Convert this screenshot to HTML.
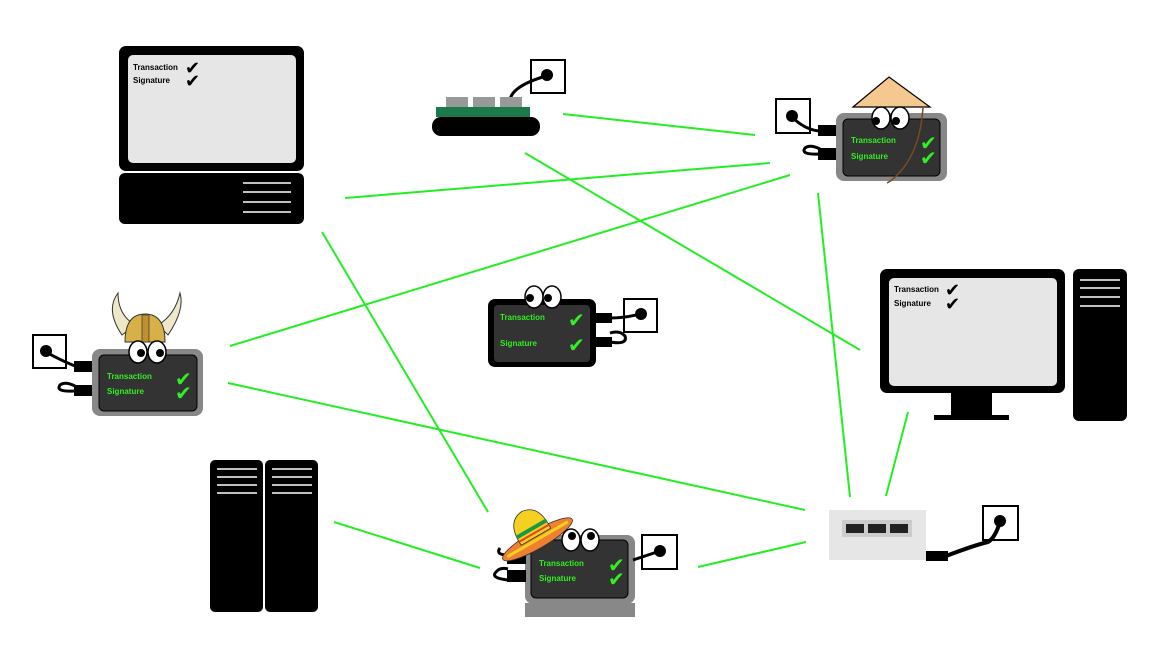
<!DOCTYPE html>
<html><head><meta charset="utf-8"><style>
html,body{margin:0;padding:0;background:#fff;width:1150px;height:647px;overflow:hidden}
svg{display:block}
.t{font-family:"Comic Sans MS","Liberation Sans",sans-serif;font-size:8px;font-weight:bold}
.g{fill:#33ee22}
.k{fill:#000}
.ck{font-family:"DejaVu Sans",sans-serif;font-size:20px;font-weight:bold}
.ck2{font-family:"DejaVu Sans",sans-serif;font-size:18px;font-weight:bold}
</style></head><body>
<svg width="1150" height="647" viewBox="0 0 1150 647" xmlns="http://www.w3.org/2000/svg">
<g stroke="#22ee22" stroke-width="2">
<line x1="563" y1="114" x2="755" y2="135"/>
<line x1="345" y1="198" x2="770" y2="163"/>
<line x1="230" y1="346" x2="790" y2="175"/>
<line x1="525" y1="153" x2="860" y2="350"/>
<line x1="322" y1="232" x2="488" y2="512"/>
<line x1="228" y1="383" x2="805" y2="510"/>
<line x1="818" y1="193" x2="850" y2="497"/>
<line x1="908" y1="412" x2="886" y2="496"/>
<line x1="334" y1="522" x2="480" y2="568"/>
<line x1="698" y1="567" x2="806" y2="542"/>
</g>

<!-- top-left computer -->
<rect x="119" y="46" width="185" height="125" rx="7" fill="#000"/>
<rect x="128" y="55" width="168" height="108" rx="5" fill="#e6e6e6"/>
<text x="133" y="70" class="t k">Transaction</text>
<text x="133" y="83" class="t k">Signature</text>
<text x="185" y="74" class="ck2 k">✔</text>
<text x="185" y="87" class="ck2 k">✔</text>
<rect x="119" y="173" width="185" height="51" rx="6" fill="#000"/>
<g stroke="#fff" stroke-width="1.5"><line x1="243" y1="183" x2="291" y2="183"/><line x1="243" y1="192" x2="291" y2="192"/><line x1="243" y1="202" x2="291" y2="202"/><line x1="243" y1="212" x2="291" y2="212"/></g>

<!-- right computer -->
<rect x="880" y="269" width="185" height="124" rx="7" fill="#000"/>
<rect x="889" y="278" width="168" height="108" rx="5" fill="#e6e6e6"/>
<text x="894" y="292" class="t k">Transaction</text>
<text x="894" y="306" class="t k">Signature</text>
<text x="945" y="296" class="ck2 k">✔</text>
<text x="945" y="310" class="ck2 k">✔</text>
<rect x="951" y="392" width="41" height="24" fill="#000"/>
<rect x="934" y="415" width="75" height="5" fill="#000"/>
<rect x="1073" y="269" width="54" height="152" rx="6" fill="#000"/>
<g stroke="#fff" stroke-width="1.5"><line x1="1080" y1="280" x2="1120" y2="280"/><line x1="1080" y1="288" x2="1120" y2="288"/><line x1="1080" y1="297" x2="1120" y2="297"/><line x1="1080" y1="306" x2="1120" y2="306"/></g>

<!-- servers -->
<rect x="210" y="460" width="53" height="152" rx="5" fill="#000"/>
<rect x="265" y="460" width="53" height="152" rx="5" fill="#000"/>
<g stroke="#fff" stroke-width="1.5"><line x1="217" y1="469" x2="257" y2="469"/><line x1="217" y1="477" x2="257" y2="477"/><line x1="217" y1="485" x2="257" y2="485"/><line x1="217" y1="493" x2="257" y2="493"/>
<line x1="272" y1="469" x2="312" y2="469"/><line x1="272" y1="477" x2="312" y2="477"/><line x1="272" y1="485" x2="312" y2="485"/><line x1="272" y1="493" x2="312" y2="493"/></g>

<!-- top switch -->
<rect x="531" y="60" width="34" height="33" fill="#fff" stroke="#000" stroke-width="2"/>
<path d="M510 100 Q512 86 546 76" stroke="#000" stroke-width="3" fill="none"/>
<circle cx="547" cy="75" r="6" fill="#000"/>
<rect x="446" y="97" width="22" height="11" fill="#999"/>
<rect x="473" y="97" width="22" height="11" fill="#999"/>
<rect x="500" y="97" width="22" height="11" fill="#999"/>
<rect x="436" y="107" width="94" height="10" fill="#1b7a4a"/>
<rect x="432" y="117" width="108" height="19" rx="9" fill="#000"/>

<!-- router -->
<rect x="829" y="510" width="97" height="50" fill="#e6e6e6"/>
<rect x="842" y="520" width="70" height="17" fill="#ccc"/>
<rect x="846" y="524" width="18" height="9" fill="#222"/><rect x="868" y="524" width="18" height="9" fill="#222"/><rect x="890" y="524" width="18" height="9" fill="#222"/>
<rect x="926" y="551" width="22" height="10" fill="#000"/>
<rect x="983" y="506" width="35" height="34" fill="#fff" stroke="#000" stroke-width="2"/>
<path d="M946 556 Q975 545 988 542 Q995 538 1000 522" stroke="#000" stroke-width="4" fill="none"/>
<circle cx="1000" cy="521" r="6" fill="#000"/>

<!-- viking dongle -->
<rect x="33" y="335" width="33" height="33" fill="#fff" stroke="#000" stroke-width="2"/>
<path d="M46 352 Q60 360 75 366" stroke="#000" stroke-width="3" fill="none"/>
<circle cx="46" cy="351" r="6" fill="#000"/>
<path d="M74 391 Q55 392 60 385 Q65 381 75 386" stroke="#000" stroke-width="3" fill="none"/>
<rect x="74" y="361" width="19" height="11" fill="#000"/>
<rect x="74" y="385" width="19" height="11" fill="#000"/>
<rect x="92" y="349" width="111" height="67" rx="8" fill="#888"/>
<rect x="99" y="355" width="98" height="56" rx="5" fill="#333" stroke="#000"/>
<text x="107" y="379" class="t g">Transaction</text>
<text x="107" y="394" class="t g">Signature</text>
<text x="175" y="386" class="ck g">✔</text>
<text x="175" y="400" class="ck g">✔</text>
<path d="M122 335 Q105 310 118 293 Q118 315 135 325Z" fill="#eee8c8" stroke="#333"/>
<path d="M168 335 Q185 310 180 293 Q175 315 158 325Z" fill="#eee8c8" stroke="#333"/>
<path d="M125 342 Q125 314 145 314 Q165 314 165 342Z" fill="#d8b048" stroke="#333"/>
<rect x="142" y="315" width="7" height="27" fill="#c09030" stroke="#333" stroke-width="0.7"/>
<ellipse cx="138" cy="352" rx="9" ry="11" fill="#fff" stroke="#000" stroke-width="1.5"/>
<ellipse cx="157" cy="352" rx="9" ry="11" fill="#fff" stroke="#000" stroke-width="1.5"/>
<circle cx="141" cy="353" r="4" fill="#000"/><circle cx="160" cy="353" r="4" fill="#000"/>

<!-- center dongle -->
<rect x="488" y="299" width="108" height="68" rx="7" fill="#000"/>
<rect x="494" y="305" width="96" height="57" rx="4" fill="#333"/>
<text x="500" y="320" class="t g">Transaction</text>
<text x="500" y="346" class="t g">Signature</text>
<text x="568" y="327" class="ck g">✔</text>
<text x="568" y="352" class="ck g">✔</text>
<rect x="596" y="313" width="16" height="10" fill="#000"/>
<rect x="596" y="337" width="16" height="10" fill="#000"/>
<rect x="624" y="299" width="33" height="33" fill="#fff" stroke="#000" stroke-width="2"/>
<path d="M610 318 Q625 318 640 314" stroke="#000" stroke-width="3" fill="none"/>
<circle cx="641" cy="314" r="6" fill="#000"/>
<path d="M610 342 Q628 345 625 336 Q620 330 610 333" stroke="#000" stroke-width="3" fill="none"/>
<ellipse cx="534" cy="297" rx="9" ry="11" fill="#fff" stroke="#000" stroke-width="1.5"/>
<ellipse cx="552" cy="297" rx="9" ry="11" fill="#fff" stroke="#000" stroke-width="1.5"/>
<circle cx="530" cy="298" r="4" fill="#000"/><circle cx="548" cy="298" r="4" fill="#000"/>

<!-- top-right conical hat dongle -->
<rect x="776" y="99" width="34" height="34" fill="#fff" stroke="#000" stroke-width="2"/>
<path d="M792 117 Q805 130 820 131" stroke="#000" stroke-width="3" fill="none"/>
<circle cx="792" cy="116" r="6" fill="#000"/>
<path d="M820 154 Q800 155 805 148 Q810 144 820 149" stroke="#000" stroke-width="3" fill="none"/>
<rect x="818" y="125" width="19" height="11" fill="#000"/>
<rect x="818" y="148" width="19" height="12" fill="#000"/>
<rect x="836" y="113" width="111" height="68" rx="8" fill="#888"/>
<rect x="843" y="119" width="97" height="57" rx="5" fill="#333" stroke="#000"/>
<text x="851" y="143" class="t g">Transaction</text>
<text x="851" y="159" class="t g">Signature</text>
<text x="920" y="150" class="ck g">✔</text>
<text x="920" y="165" class="ck g">✔</text>
<path d="M853 107 L889 77 L930 107 Z" fill="#f5c890" stroke="#000" stroke-width="1.2"/>
<path d="M923 108 Q920 150 900 172 Q893 180 887 183" stroke="#7a4a20" stroke-width="1.5" fill="none"/>
<ellipse cx="881" cy="118" rx="9" ry="11" fill="#fff" stroke="#000" stroke-width="1.5"/>
<ellipse cx="900" cy="118" rx="9" ry="11" fill="#fff" stroke="#000" stroke-width="1.5"/>
<circle cx="876" cy="121" r="4" fill="#000"/><circle cx="896" cy="121" r="4" fill="#000"/>

<!-- bottom sombrero dongle -->
<rect x="525" y="603" width="110" height="14" fill="#888"/>
<rect x="525" y="535" width="110" height="69" rx="8" fill="#888"/>
<rect x="531" y="540" width="97" height="58" rx="5" fill="#333" stroke="#000"/>
<text x="539" y="566" class="t g">Transaction</text>
<text x="539" y="581" class="t g">Signature</text>
<text x="608" y="572" class="ck g">✔</text>
<text x="608" y="586" class="ck g">✔</text>
<rect x="642" y="535" width="35" height="34" fill="#fff" stroke="#000" stroke-width="2"/>
<path d="M633 560 Q645 556 660 551" stroke="#000" stroke-width="3" fill="none"/>
<circle cx="660" cy="551" r="6" fill="#000"/>
<path d="M508 580 Q490 578 496 572 Q500 567 508 569" stroke="#000" stroke-width="3" fill="none"/>
<path d="M508 555 Q495 555 500 548" stroke="#000" stroke-width="3" fill="none"/>
<rect x="507" y="554" width="19" height="10" fill="#000"/>
<rect x="507" y="570" width="19" height="12" fill="#000"/>
<g transform="rotate(-30 535 535)">
<ellipse cx="535" cy="540" rx="40" ry="9" fill="#f08030" stroke="#333" stroke-width="0.8"/>
<path d="M500 540 L570 540" stroke="#f5d020" stroke-width="3"/>
<path d="M518 537 Q516 510 535 508 Q554 510 552 537 Z" fill="#f5d020" stroke="#333" stroke-width="0.8"/>
<path d="M518 528 L552 528" stroke="#1a9a40" stroke-width="4"/>
<path d="M518 533 L552 533" stroke="#e84020" stroke-width="2"/>
</g>
<ellipse cx="571" cy="540" rx="9" ry="11" fill="#fff" stroke="#000" stroke-width="1.5"/>
<ellipse cx="590" cy="540" rx="9" ry="11" fill="#fff" stroke="#000" stroke-width="1.5"/>
<circle cx="572" cy="536" r="4" fill="#000"/><circle cx="591" cy="536" r="4" fill="#000"/>
</svg>
</body></html>
